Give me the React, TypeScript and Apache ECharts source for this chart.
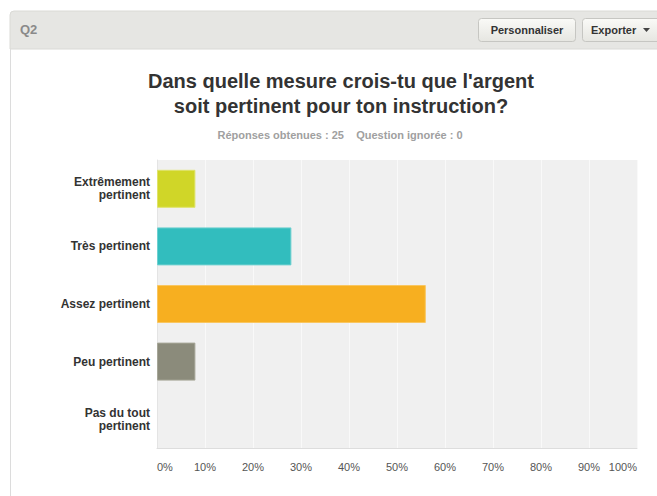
import React, { useEffect, useRef } from "react";
import * as echarts from "echarts";

const categories = [
  "Extrêmement\npertinent",
  "Très pertinent",
  "Assez pertinent",
  "Peu pertinent",
  "Pas du tout\npertinent",
];
const percentValues = [8, 28, 56, 8, 0];
const barColors = ["#d0d628", "#32bdbe", "#f7af20", "#8b8b7b"];
const barBorders = ["#dfe36a", "#6fd0d0", "#f9c660", "#a6a698", "#ffffff"];
const titleLines = [
  "Dans quelle mesure crois-tu que l'argent",
  "soit pertinent pour ton instruction?",
];
const subtitleText = "Réponses obtenues : 25    Question ignorée : 0";
const headerLabel = "Q2";
const buttonLabels = ["Personnaliser", "Exporter"];

const FONT = "'Liberation Sans', Arial, Helvetica, sans-serif";

export default function App() {
  const ref = useRef<HTMLDivElement>(null);

  useEffect(() => {
    if (!ref.current) return;
    const chart = echarts.init(ref.current, null, { renderer: "svg" });

    const btnFill = new echarts.graphic.LinearGradient(0, 0, 0, 1, [
      { offset: 0, color: "#fafaf7" },
      { offset: 1, color: "#e6e6e1" },
    ]);

    const option: any = {
      animation: false,
      backgroundColor: "#ffffff",
      graphic: [
        {
          type: "rect",
          shape: { x: 10, y: 11, width: 660, height: 38, r: [4, 0, 0, 0] },
          style: { fill: "#e6e6e3", stroke: "#dadad6", lineWidth: 1 },
          z: 0,
        },
        {
          type: "line",
          shape: { x1: 10.5, y1: 49, x2: 10.5, y2: 496 },
          style: { stroke: "#dcdcdc", lineWidth: 1 },
        },
        {
          type: "text",
          x: 20,
          y: 29,
          style: {
            text: headerLabel,
            fill: "#8a8a8a",
            font: `bold 13px ${FONT}`,
            align: "left",
            verticalAlign: "middle",
          },
        },
        {
          type: "rect",
          shape: { x: 478.5, y: 18.5, width: 97, height: 23, r: 3 },
          style: { fill: btnFill, stroke: "#c6c6c2", lineWidth: 1 },
        },
        {
          type: "text",
          x: 527,
          y: 30,
          style: {
            text: buttonLabels[0],
            fill: "#333333",
            font: `bold 11px ${FONT}`,
            align: "center",
            verticalAlign: "middle",
          },
        },
        {
          type: "rect",
          shape: { x: 582.5, y: 18.5, width: 90, height: 23, r: 3 },
          style: { fill: btnFill, stroke: "#c6c6c2", lineWidth: 1 },
        },
        {
          type: "text",
          x: 591,
          y: 30,
          style: {
            text: buttonLabels[1],
            fill: "#333333",
            font: `bold 11px ${FONT}`,
            align: "left",
            verticalAlign: "middle",
          },
        },
        {
          type: "polygon",
          shape: { points: [[643, 28], [650, 28], [646.5, 32]] },
          style: { fill: "#444444" },
        },
        {
          type: "text",
          x: 341,
          y: 81,
          style: {
            text: titleLines[0],
            fill: "#333333",
            font: `bold 20px ${FONT}`,
            align: "center",
            verticalAlign: "middle",
          },
        },
        {
          type: "text",
          x: 341,
          y: 106,
          style: {
            text: titleLines[1],
            fill: "#333333",
            font: `bold 20px ${FONT}`,
            align: "center",
            verticalAlign: "middle",
          },
        },
        {
          type: "text",
          x: 340,
          y: 135,
          style: {
            text: subtitleText,
            fill: "#a0a0a0",
            font: `bold 11px ${FONT}`,
            align: "center",
            verticalAlign: "middle",
          },
        },
      ],
      grid: {
        left: 157,
        top: 160,
        width: 480,
        height: 288,
        show: true,
        backgroundColor: "#f0f0f0",
        borderWidth: 0,
      },
      xAxis: {
        type: "value",
        min: 0,
        max: 100,
        interval: 10,
        axisLine: { show: true, lineStyle: { color: "#dddddd", width: 1 } },
        axisTick: { show: false },
        splitLine: { show: true, lineStyle: { color: "#f9f9f9", width: 1 } },
        axisLabel: {
          formatter: "{value}%",
          color: "#555555",
          fontSize: 11,
          fontFamily: FONT,
          margin: 13,
          alignMinLabel: "left",
          alignMaxLabel: "right",
        },
      },
      yAxis: {
        type: "category",
        data: categories,
        inverse: true,
        axisLine: { show: true, lineStyle: { color: "#e4e4e4" } },
        axisTick: { show: false },
        splitLine: { show: false },
        axisLabel: {
          color: "#333333",
          fontSize: 12,
          fontWeight: "bold",
          fontFamily: FONT,
          lineHeight: 13,
          margin: 7,
        },
      },
      series: [
        {
          type: "bar",
          barWidth: 38,
          data: percentValues.map((v, i) => ({
            value: v,
            itemStyle: {
              color: barColors[i % barColors.length],
              borderColor: barBorders[i],
              borderWidth: v > 0 ? 1 : 0,
            },
          })),
        },
      ],
    };

    chart.setOption(option);
    return () => chart.dispose();
  }, []);

  return (
    <div
      ref={ref}
      style={{ position: "fixed", left: 0, top: 0, width: 657, height: 496 }}
    />
  );
}
